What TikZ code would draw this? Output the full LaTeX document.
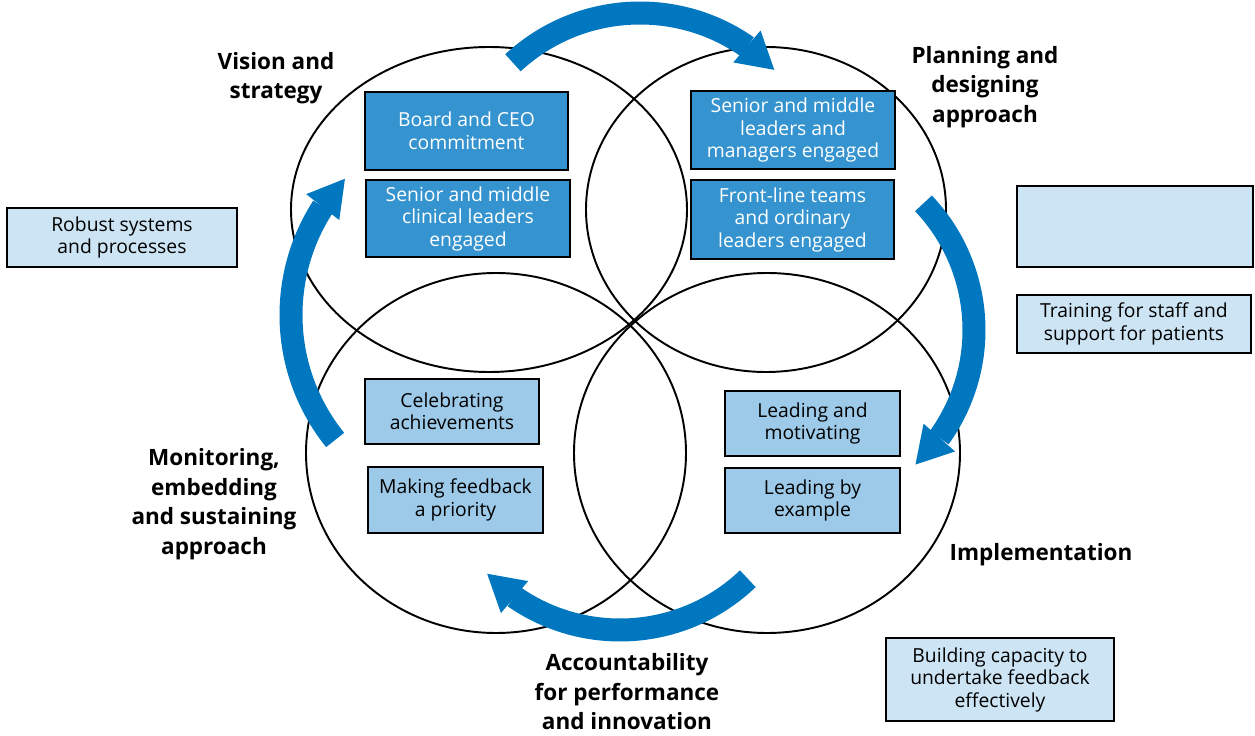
\documentclass[tikz,border=0pt]{standalone}
\usepackage{fontspec}
\setmainfont{Open Sans}
\usetikzlibrary{arrows.meta,bending}
\definecolor{boxdark}{HTML}{3594CF}
\definecolor{boxmid}{HTML}{9DCAE9}
\definecolor{boxpale}{HTML}{CDE4F4}
\definecolor{arrowblue}{HTML}{0077BE}

\begin{document}
\begin{tikzpicture}[x=0.02cm,y=-0.02cm,
		ring/.style={draw=black,line width=1.1pt},
		box/.style={draw=black,line width=1.3pt,inner sep=0pt,align=center,font=\fontsize{11}{12.8}\selectfont},
		darkbox/.style={box,fill=boxdark,text=white},
		midbox/.style={box,fill=boxmid},
		palebox/.style={box,fill=boxpale},
		stage/.style={align=center,font=\bfseries\fontsize{12.8}{16.8}\selectfont},
		cyclearrow/.style={draw=arrowblue,line width=0.46cm,-{Triangle[length=0.72cm,width=0.84cm,line width=0pt]}}]
	\useasboundingbox (0,0) rectangle (1255,736);
	% four overlapping rings
	\draw [ring] (489,209.5) ellipse [x radius=198,y radius=162.5];
	\draw [ring] (766,209.5) ellipse [x radius=180,y radius=162.5];
	\draw [ring] (496,453) ellipse [x radius=190,y radius=180];
	\draw [ring] (767,453) ellipse [x radius=193,y radius=180];
	% turning arrows
	\coordinate (tophub) at (640,200);
	\coordinate (righthub) at (790,330);
	\coordinate (bottomhub) at (620,445);
	\coordinate (lefthub) at (490,315);
	\draw [cyclearrow] ([shift={(-132.8:187)}]tophub) arc [start angle=-132.8,end angle=-44.1,radius=187];
	\draw [cyclearrow] ([shift={(-43.5:184)}]righthub) arc [start angle=-43.5,end angle=47,radius=184];
	\draw [cyclearrow] ([shift={(46.3:185)}]bottomhub) arc [start angle=46.3,end angle=135.9,radius=185];
	\draw [cyclearrow] ([shift={(141.1:199)}]lefthub) arc [start angle=141.1,end angle=223.2,radius=199];
	% boxes
	\node [darkbox,minimum width=4.06cm,minimum height=1.56cm] (board) at (466.5,131) {Board and CEO\\commitment};
	\node [darkbox,minimum width=4.08cm,minimum height=1.54cm] (clinical) at (468,218.5) {Senior and middle\\clinical leaders\\engaged};
	\node [darkbox,minimum width=4.08cm,minimum height=1.56cm] (managers) at (793,130) {Senior and middle\\leaders and\\managers engaged};
	\node [darkbox,minimum width=4.06cm,minimum height=1.58cm] (frontline) at (792.5,219.5) {Front-line teams\\and ordinary\\leaders engaged};
	\node [midbox,minimum width=3.48cm,minimum height=1.3cm] (celebrate) at (452,411.5) {Celebrating\\achievements};
	\node [midbox,minimum width=3.5cm,minimum height=1.32cm] (feedback) at (455.5,500) {Making feedback\\a priority};
	\node [midbox,minimum width=3.5cm,minimum height=1.3cm] (motivate) at (812.5,423.5) {Leading and\\motivating};
	\node [midbox,minimum width=3.5cm,minimum height=1.3cm] (example) at (812.5,500.5) {Leading by\\example};
	\node [palebox,minimum width=4.6cm,minimum height=1.18cm] (robust) at (122,237.5) {Robust systems\\and processes};
	\node [palebox,minimum width=4.72cm,minimum height=1.62cm] (blank) at (1135,226.5) {};
	\node [palebox,minimum width=4.68cm,minimum height=1.16cm] (training) at (1134,324) {Training for staff and\\support for patients};
	\node [palebox,minimum width=4.56cm,minimum height=1.66cm] (capacity) at (1000,679.5) {Building capacity to\\undertake feedback\\effectively};
	% stage labels
	\node [stage] (vision) at (276,78) {Vision and\\strategy};
	\node [stage] (planning) at (985,87) {Planning and\\designing\\approach};
	\node [stage] (monitoring) at (214,504) {Monitoring,\\embedding\\and sustaining\\approach};
	\node [stage] (implementation) at (1041,555) {Implementation};
	\node [stage] (accountability) at (627,692) {Accountability\\for performance\\and innovation};
\end{tikzpicture}
\end{document}
